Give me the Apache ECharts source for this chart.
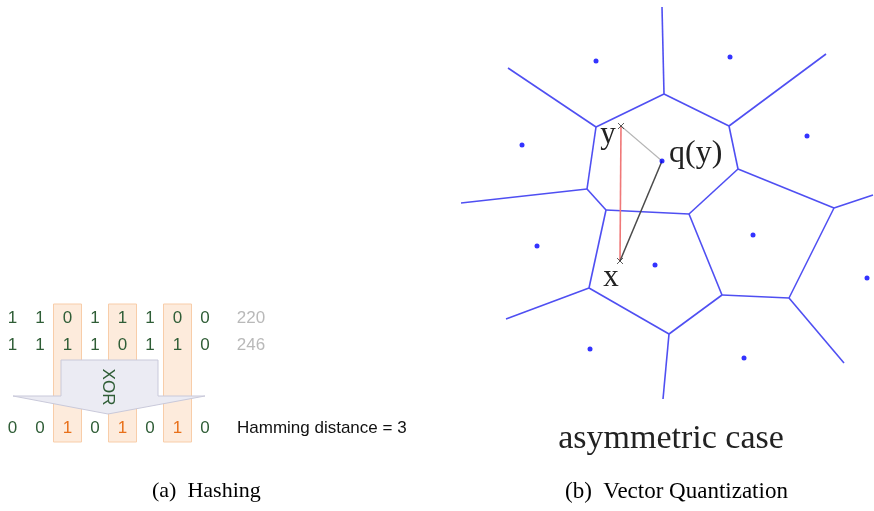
<!DOCTYPE html>
<html>
<head>
<meta charset="utf-8">
<script src="https://cdn.jsdelivr.net/npm/echarts@6/dist/echarts.min.js"></script>
<style>
  html, body { margin: 0; padding: 0; background: #fff; }
  #chart { width: 874px; height: 511px; }
</style>
</head>
<body>
<div id="chart"></div>
<script>
// ---- (a) Hashing: two 8-bit codes and their XOR ----
const bitsA = [1, 1, 0, 1, 1, 1, 0, 0];
const bitsB = [1, 1, 1, 1, 0, 1, 1, 0];
const bitsXor = [0, 0, 1, 0, 1, 0, 1, 0];
const decimals = [220, 246];
const hammingDistance = 3;

// ---- (b) Vector quantization: Voronoi cells around codewords ----
const sites = [[596, 61], [730, 57], [522, 145], [807, 136], [537, 246],
               [655, 265], [753, 235], [867, 278], [590, 349], [744, 358]];
const codewordQy = [662, 161];
const pointY = [621, 126];
const pointX = [620, 261];
const vertices = {
  A: [664, 94], B: [596, 127], C: [729, 126], D: [738, 169],
  E: [587, 189], F: [606, 210], G: [689, 214], H: [589, 288],
  I: [669, 334], J: [722, 295], K: [789, 298], L: [834, 208]
};
const innerEdges = [['A','B'], ['A','C'], ['C','D'], ['B','E'], ['E','F'], ['F','G'],
                    ['G','D'], ['D','L'], ['F','H'], ['H','I'], ['I','J'], ['J','G'],
                    ['J','K'], ['K','L']];
const openEdges = [['A', [662, 7]], ['B', [508, 68]], ['C', [826, 54]], ['E', [461, 203]],
                   ['H', [506, 319]], ['I', [663, 399]], ['K', [844, 363]], ['L', [873, 195]]];

// layout of the bit table
const colX0 = 12.5, colStep = 27.5;
const rowY = [318, 345, 428];
const decimalX = 251;
const colTop = 304, colBottom = 442, colWidth = 28;
const arrowShape = [[61, 360], [158, 360], [158, 396], [205, 396], [108, 414], [13, 396], [61, 396]];

const GREEN = '#2f5d36', ORANGE = '#e8701a', SANS = '"Liberation Sans", Arial, sans-serif',
      SERIF = '"Liberation Serif", "Times New Roman", serif';

const chart = echarts.init(document.getElementById('chart'));

const bitRows = [bitsA, bitsB, bitsXor];
const bitData = [];
bitRows.forEach((row, r) => row.forEach((b, i) => bitData.push([colX0 + i * colStep, rowY[r], b, r])));
const decData = decimals.map((d, r) => [decimalX, rowY[r], d]);
const columnData = bitsXor.map((b, i) => [colX0 + i * colStep, b]).filter(d => d[1] === 1);

const voronoiLines = innerEdges.map(e => ({ coords: [vertices[e[0]], vertices[e[1]]] }))
  .concat(openEdges.map(e => ({ coords: [vertices[e[0]], e[1]] })));

const textSeries = (data, colorFn, font) => ({
  type: 'custom', coordinateSystem: 'cartesian2d', z: 5, data,
  renderItem: (params, api) => {
    const p = api.coord([api.value(0), api.value(1)]);
    return {
      type: 'text', x: p[0], y: p[1],
      style: { text: String(api.value(2)), fill: colorFn(api.value(2), api.value(3)),
               font, align: 'center', verticalAlign: 'middle' }
    };
  }
});

// text placed by its baseline (middle of the em box sits ~0.34em above it)
const label = (text, x, baseline, size, family, fill, align) => ({
  type: 'text', x, y: baseline - 0.34 * size,
  style: { text, font: size + 'px ' + family, fill, align, verticalAlign: 'middle' }
});

chart.setOption({
  animation: false,
  grid: { left: 0, right: 0, top: 0, bottom: 0 },
  xAxis: { type: 'value', min: 0, max: 874, show: false },
  yAxis: { type: 'value', min: 0, max: 511, inverse: true, show: false },
  series: [
    { // highlighted differing bit columns
      type: 'custom', coordinateSystem: 'cartesian2d', z: 1, data: columnData,
      renderItem: (params, api) => {
        const tl = api.coord([api.value(0) - colWidth / 2, colTop]);
        const br = api.coord([api.value(0) + colWidth / 2, colBottom]);
        return { type: 'rect', shape: { x: tl[0], y: tl[1], width: br[0] - tl[0], height: br[1] - tl[1] },
                 style: { fill: '#fdebdc', stroke: '#f8cda9', lineWidth: 1 } };
      }
    },
    { // XOR arrow
      type: 'custom', coordinateSystem: 'cartesian2d', z: 2, data: [0],
      renderItem: (params, api) => ({
        type: 'group',
        children: [
          { type: 'polygon', shape: { points: arrowShape.map(p => api.coord(p)) },
            style: { fill: '#ebebf3', stroke: '#c9c9da', lineWidth: 1 } },
          { type: 'text', x: api.coord([108, 387])[0], y: api.coord([108, 387])[1], rotation: -Math.PI / 2,
            style: { text: 'XOR', fill: GREEN, font: '17px ' + SANS, align: 'center', verticalAlign: 'middle' } }
        ]
      })
    },
    textSeries(bitData, (b, r) => (r === 2 && b === 1) ? ORANGE : GREEN, '17px ' + SANS),
    textSeries(decData, () => '#b9b9b9', '17px ' + SANS),
    { // Voronoi cell boundaries
      type: 'lines', coordinateSystem: 'cartesian2d', z: 3, data: voronoiLines,
      lineStyle: { color: '#4f4ff2', width: 1.6, opacity: 1 }
    },
    { // distances between x, y and q(y)
      type: 'lines', coordinateSystem: 'cartesian2d', z: 4,
      data: [
        { coords: [pointY, pointX], lineStyle: { color: '#f07878', width: 1.6 } },
        { coords: [pointY, codewordQy], lineStyle: { color: '#b5b5b5', width: 1.1 } },
        { coords: [codewordQy, pointX], lineStyle: { color: '#4a4a4a', width: 1.5 } }
      ],
      lineStyle: { opacity: 1 }
    },
    { // codewords
      type: 'scatter', z: 6, symbolSize: 5, data: sites.concat([codewordQy]),
      itemStyle: { color: '#0000ff' }
    },
    { // query points
      type: 'scatter', z: 6, symbol: 'path://M0,0L10,10M10,0L0,10', symbolSize: 6,
      data: [pointY, pointX],
      itemStyle: { color: 'none', borderColor: '#333', borderWidth: 1 }
    }
  ],
  graphic: [
    label('y', 608, 145, 31, SERIF, '#222', 'center'),
    label('q(y)', 669, 164, 32, SERIF, '#222', 'left'),
    label('x', 611, 288, 31, SERIF, '#222', 'center'),
    label('asymmetric case', 671, 451, 34, SERIF, '#222', 'center'),
    { type: 'text', x: 237, y: 428, style: { text: 'Hamming distance = ' + hammingDistance, font: '17px ' + SANS, fill: '#111', align: 'left', verticalAlign: 'middle' } },
    label('(a)  Hashing', 152, 499, 22, SERIF, '#000', 'left'),
    label('(b)  Vector Quantization', 565, 500, 23, SERIF, '#000', 'left')
  ]
});
</script>
</body>
</html>
